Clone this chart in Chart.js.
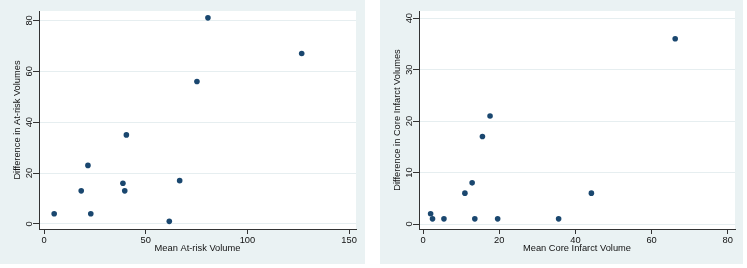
<!DOCTYPE html>
<html>
<head>
<meta charset="utf-8">
<script src="https://cdn.jsdelivr.net/npm/chart.js@4"></script>
<style>
  body { margin: 0; background: #fff; width: 747px; height: 268px; position: relative; overflow: hidden; }
  .panel { position: absolute; top: 0; height: 264px; background: #eaf2f3; }
  #p1 { left: 0; width: 365px; }
  #p2 { left: 380px; width: 363px; }
</style>
</head>
<body>
<div class="panel" id="p1"><canvas id="chartRisk" width="365" height="264"></canvas></div>
<div class="panel" id="p2"><canvas id="chartCore" width="363" height="264"></canvas></div>
<script>
// at-risk volumes (left)
const riskMean = [5, 18.3, 21.6, 23, 38.8, 39.7, 40.5, 61.6, 66.7, 75.2, 80.6, 126.7];
const riskDiff = [4, 13, 23, 4, 16, 13, 35, 1, 17, 56, 81, 67];
const riskXTicks = [0, 50, 100, 150];
const riskYTicks = [0, 20, 40, 60, 80];

// core infarct volumes (right)
const coreMean = [2, 2.5, 5.5, 11, 12.9, 13.6, 15.6, 17.6, 19.6, 35.6, 44.2, 66.2];
const coreDiff = [2, 1, 1, 6, 8, 1, 17, 21, 1, 1, 6, 36];
const coreXTicks = [0, 20, 40, 60, 80];
const coreYTicks = [0, 10, 20, 30, 40];

const FONT = { family: "'Liberation Sans', Arial, sans-serif", size: 9.3 };
const AXIS_COLOR = '#333';

// white plot region like Stata
const plotBg = {
    id: 'plotBg',
    beforeDraw(chart) {
        const { ctx, chartArea: a } = chart;
        ctx.save();
        ctx.fillStyle = '#fff';
        ctx.fillRect(a.left, a.top, a.right - a.left, a.bottom - a.top);
        ctx.restore();
    }
};

function makeScatter(id, xs, ys, xTicks, yTicks, xRange, yRange, xTitle, yTitle, padRight) {
    const ctx = document.getElementById(id).getContext('2d');
    return new Chart(ctx, {
        type: 'scatter',
        data: {
            datasets: [{
                data: xs.map((x, i) => ({ x: x, y: ys[i] })),
                backgroundColor: '#1a476f',
                borderWidth: 0,
                pointRadius: 2.8
            }]
        },
        options: {
            responsive: false,
            devicePixelRatio: 1,
            animation: false,
            layout: { padding: { left: 0, top: 11, right: padRight, bottom: 0 } },
            plugins: { legend: { display: false }, tooltip: { enabled: false } },
            scales: {
                x: {
                    type: 'linear',
                    min: xRange[0],
                    max: xRange[1],
                    afterBuildTicks: s => { s.ticks = xTicks.map(v => ({ value: v })); },
                    afterFit: s => { s.height = 35; },
                    grid: { drawOnChartArea: false, tickLength: 5, tickColor: AXIS_COLOR },
                    border: { color: AXIS_COLOR, width: 1 },
                    ticks: { font: FONT, color: '#111', padding: 0.5, maxRotation: 0 },
                    title: { display: true, text: xTitle, font: FONT, color: '#111', padding: { top: 0, bottom: 10.4 } }
                },
                y: {
                    type: 'linear',
                    min: yRange[0],
                    max: yRange[1],
                    afterBuildTicks: s => { s.ticks = yTicks.map(v => ({ value: v })); },
                    afterFit: s => { s.width = 39; },
                    grid: { color: '#e6eef0', tickLength: 6, tickColor: AXIS_COLOR },
                    border: { color: AXIS_COLOR, width: 1 },
                    ticks: { font: FONT, color: '#111', padding: -1.5, minRotation: 90, maxRotation: 90, crossAlign: 'center' },
                    title: { display: true, text: yTitle, font: FONT, color: '#111', padding: { top: 12, bottom: 0 } }
                }
            }
        },
        plugins: [plotBg]
    });
}

makeScatter('chartRisk', riskMean, riskDiff, riskXTicks, riskYTicks, [-2.46, 153.4], [-2, 83.7],
    'Mean At-risk Volume', 'Difference in At-risk Volumes', 9);
makeScatter('chartCore', coreMean, coreDiff, coreXTicks, coreYTicks, [-1.05, 81.9], [-0.97, 41.4],
    'Mean Core Infarct Volume', 'Difference in Core Infarct Volumes', 8);
</script>
</body>
</html>
